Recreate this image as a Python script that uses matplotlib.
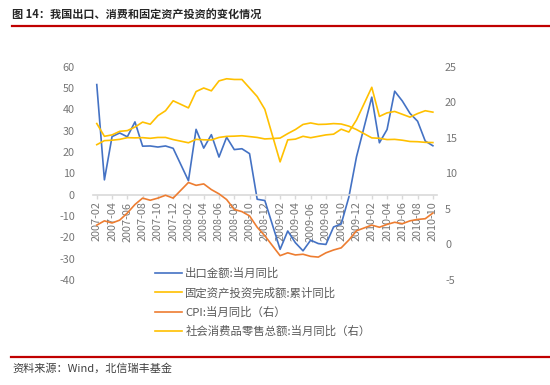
import numpy as np
import pandas as pd
import matplotlib
matplotlib.use("Agg")
import matplotlib.pyplot as plt

plt.rcParams['font.family'] = ['Noto Sans CJK SC', 'DejaVu Sans']
plt.rcParams['axes.unicode_minus'] = False

# monthly categories, 2007-02 .. 2010-10 (January values not published -> None)
months = list(pd.date_range('2007-02', '2010-10', freq='MS').strftime('%Y-%m'))

export = [51.6, 6.9, 27.2, 28.9, 27.1, 34.1, 22.7, 22.8, 22.3, 22.8, 21.7, None,
          6.5, 30.6, 21.8, 28.1, 17.6, 26.9, 21.1, 21.5, 19.2, -2.2, -2.8, None,
          -25.7, -17.1, -22.6, -26.4, -21.4, -23.0, -23.4, -15.2, -13.8, -1.2, 17.7, None,
          45.7, 24.3, 30.5, 48.5, 43.9, 38.1, 34.4, 25.1, 22.9]
fai = [23.4, 25.3, 25.5, 25.9, 26.7, 26.6, 26.7, 26.4, 26.8, 26.8, 25.8, None,
       24.3, 25.9, 25.7, 25.6, 26.8, 27.3, 27.4, 27.6, 27.2, 26.8, 26.1, None,
       26.5, 28.6, 30.5, 32.9, 33.6, 32.9, 33.0, 33.3, 33.1, 32.1, 30.5, None,
       26.6, 26.4, 25.8, 25.9, 25.5, 24.9, 24.8, 24.5, 24.4]
cpi = [2.7, 3.3, 3.0, 3.4, 4.4, 5.6, 6.5, 6.2, 6.5, 6.9, 6.5, None,
       8.7, 8.3, 8.5, 7.7, 7.1, 6.3, 4.9, 4.6, 4.0, 2.4, 1.2, None,
       -1.6, -1.2, -1.5, -1.4, -1.7, -1.8, -1.2, -0.8, -0.5, 0.6, 1.9, None,
       2.7, 2.4, 2.8, 3.1, 2.9, 3.3, 3.5, 3.6, 4.4]
retail = [17.0, 15.2, 15.4, 15.9, 16.0, 16.5, 17.2, 16.9, 18.1, 18.8, 20.2, None,
          19.2, 21.5, 22.0, 21.6, 23.0, 23.3, 23.2, 23.2, 22.0, 20.8, 19.0, None,
          11.6, 14.7, 14.8, 15.2, 15.0, 15.2, 15.4, 15.5, 16.2, 15.8, 17.5, None,
          22.1, 18.0, 18.5, 18.7, 18.3, 17.9, 18.4, 18.8, 18.6]

labels = ['出口金额:当月同比', '固定资产投资完成额:累计同比',
          'CPI:当月同比（右）', '社会消费品零售总额:当月同比（右）']
colors = ['#4472C4', '#FFC000', '#ED7D31', '#FFC000']

gray = '#767676'
x = np.arange(len(months))

def pts(vals):
    v = np.array([np.nan if a is None else a for a in vals], dtype=float)
    m = ~np.isnan(v)
    return x[m], v[m]

fig = plt.figure(figsize=(5.5, 3.85), dpi=100)
ax = fig.add_axes([0.169, 0.2732, 0.794 - 0.169, 0.8268 - 0.2732])
ax2 = ax.twinx()

l1, = ax.plot(*pts(export), color=colors[0], lw=1.2)
l2, = ax.plot(*pts(fai), color=colors[1], lw=1.2)
l3, = ax2.plot(*pts(cpi), color=colors[2], lw=1.2)
l4, = ax2.plot(*pts(retail), color=colors[3], lw=1.2)

ax.set_xlim(-0.5, len(months) - 0.5)
ax.set_ylim(-40, 60)
ax.set_yticks(range(-40, 61, 10))
ax2.set_ylim(-5, 25)
ax2.set_yticks(range(-5, 26, 5))

for a in (ax, ax2):
    for s in ('top', 'left', 'right'):
        a.spines[s].set_visible(False)
ax2.spines['bottom'].set_visible(False)
ax.spines['bottom'].set_position(('data', 0))
ax.spines['bottom'].set_color('#D9D9D9')
ax.spines['bottom'].set_linewidth(1.2)

ax.set_xticks(x[::2])
ax.set_xticklabels(months[::2], rotation=90)
ax.tick_params(axis='x', colors='#D9D9D9', length=3, width=1, pad=2,
               labelcolor=gray, labelsize=7.8)
ax.tick_params(axis='y', length=0, pad=13, labelcolor=gray, labelsize=7.8)
ax2.tick_params(axis='y', length=0, pad=6, labelcolor=gray, labelsize=7.8)

fig.legend([l1, l2, l3, l4], labels, loc='upper left',
           bbox_to_anchor=(150 / 550, 1 - 263 / 385), frameon=False,
           fontsize=8.2, labelcolor='#595959', handlelength=2.4,
           handletextpad=0.3, labelspacing=0.72, borderaxespad=0)

# header and footer
fig.text(12 / 550, 1 - 15 / 385, '图 14：我国出口、消费和固定资产投资的变化情况',
         fontsize=8, fontweight='bold', color='#262626', va='center', ha='left')
fig.add_artist(plt.Line2D([12 / 550, 1], [1 - 25.5 / 385] * 2, color='#C00000', lw=1.6))
fig.add_artist(plt.Line2D([11 / 550, 1], [1 - 357 / 385] * 2, color='#C00000', lw=1.6))
fig.text(12 / 550, 1 - 368 / 385, '资料来源：Wind，北信瑞丰基金', fontsize=8,
         style='italic', color='#404040', va='center', ha='left')

fig.savefig('out.png', dpi=100)
